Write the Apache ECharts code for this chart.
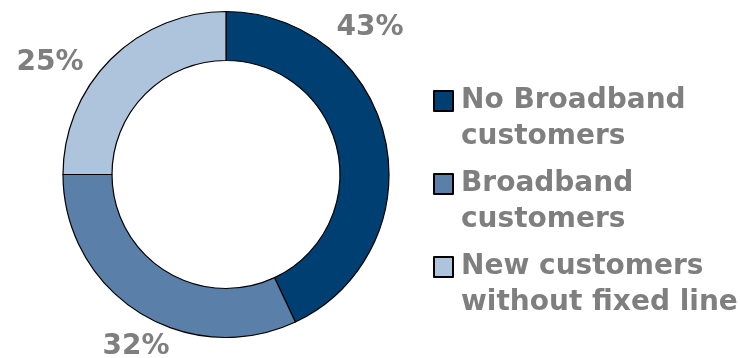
<!DOCTYPE html>
<html>
<head>
<meta charset="utf-8">
<script src="https://cdn.jsdelivr.net/npm/echarts@6/dist/echarts.min.js"></script>
<style>
  html, body { margin: 0; padding: 0; background: #fff; }
  #chart { width: 740px; height: 358px; }
</style>
</head>
<body>
<div id="chart"></div>
<script>
// Customer mix by segment (share of total, %)
const categories = ['No Broadband\ncustomers', 'Broadband\ncustomers', 'New customers\nwithout fixed line'];
const shares = [43, 32, 25];
const colors = ['#003f72', '#5a80aa', '#adc4dc'];

// Where each percentage label sits, relative to the ring's centre (px)
const labelOffsets = [[144, -147], [-90, 172], [-176, -112]];
const CX = 226, CY = 174.5;

const chart = echarts.init(document.getElementById('chart'), null, { renderer: 'canvas' });

const textGray = '#7f7f7f';
const font = 'DejaVu Sans';

chart.setOption({
  animation: false,
  color: colors,
  legend: {
    orient: 'vertical',
    left: 428,
    top: 42,
    itemWidth: 19,
    itemHeight: 20,
    itemGap: -25,
    icon: 'rect',
    data: categories,
    // a leading blank line keeps the swatch level with the first text line
    formatter: function (name) { return '\n' + name; },
    textStyle: {
      fontFamily: font,
      fontSize: 28,
      fontWeight: 'bold',
      color: textGray,
      lineHeight: 36,
      padding: [0, 0, 0, 3]
    }
  },
  series: [{
    type: 'pie',
    center: [CX, CY],
    radius: [114, 163],
    startAngle: 90,
    clockwise: true,
    avoidLabelOverlap: false,
    itemStyle: { borderColor: '#000', borderWidth: 1.2 },
    emphasis: { disabled: true },
    label: {
      show: true,
      position: 'outside',
      formatter: '{c}%',
      fontFamily: font,
      fontSize: 28,
      fontWeight: 'bold',
      color: textGray
    },
    labelLine: { show: false },
    labelLayout: function (params) {
      const off = labelOffsets[params.dataIndex];
      return { x: CX + off[0], y: CY + off[1], align: 'center', verticalAlign: 'middle' };
    },
    data: categories.map((name, i) => ({ name: name, value: shares[i] }))
  }]
});
</script>
</body>
</html>
